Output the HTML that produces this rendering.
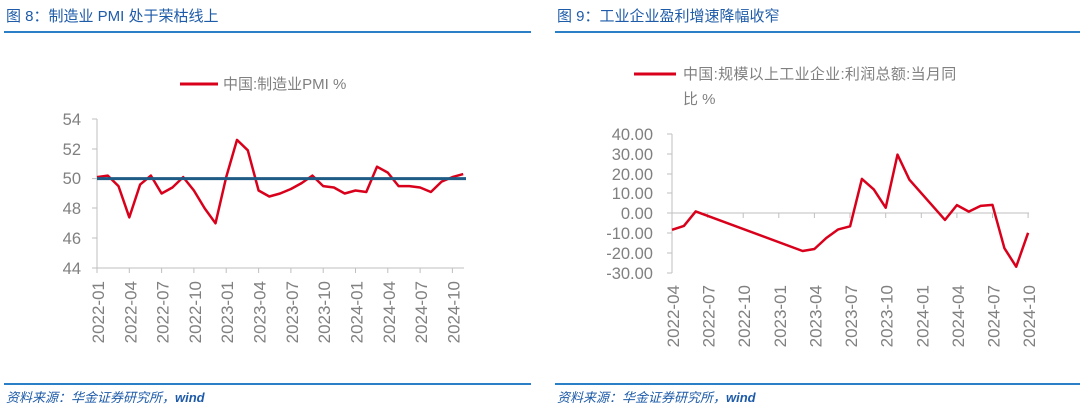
<!DOCTYPE html>
<html><head><meta charset="utf-8"><style>
body{margin:0;background:#fff;}
svg{display:block;font-family:"Liberation Sans","Noto Sans CJK SC",sans-serif;}
</style></head><body>
<svg width="1080" height="410" viewBox="0 0 1080 410">
<!-- titles -->
<text x="6" y="21" font-size="15" fill="#1e5ba8">图 8：制造业 PMI 处于荣枯线上</text>
<line x1="4" y1="32" x2="531" y2="32" stroke="#2a7fc6" stroke-width="2"/>
<text x="557" y="21" font-size="15" fill="#1e5ba8">图 9：工业企业盈利增速降幅收窄</text>
<line x1="555" y1="32" x2="1080" y2="32" stroke="#2a7fc6" stroke-width="2"/>
<!-- footers -->
<line x1="4" y1="384" x2="531" y2="384" stroke="#2a7fc6" stroke-width="2"/>
<line x1="555" y1="384" x2="1080" y2="384" stroke="#2a7fc6" stroke-width="2"/>
<text x="6" y="402" font-size="13" fill="#1e5ba8" font-style="italic">资料来源：华金证券研究所，<tspan font-weight="bold">wind</tspan></text>
<text x="557" y="402" font-size="13" fill="#1e5ba8" font-style="italic">资料来源：华金证券研究所，<tspan font-weight="bold">wind</tspan></text>

<!-- LEFT CHART -->
<line x1="180" y1="84" x2="218" y2="84" stroke="#d9001b" stroke-width="3"/>
<text x="223" y="89" font-size="15" fill="#808080">中国:制造业PMI %</text>
<g font-size="16.5" fill="#808080" text-anchor="end">
<text x="81" y="125">54</text><text x="81" y="155">52</text><text x="81" y="184">50</text>
<text x="81" y="214">48</text><text x="81" y="244">46</text><text x="81" y="274">44</text>
</g>
<g stroke="#bfbfbf" stroke-width="1">
<line x1="97" y1="119" x2="97" y2="268"/>
<line x1="92" y1="119" x2="97" y2="119"/><line x1="92" y1="149" x2="97" y2="149"/>
<line x1="92" y1="178.6" x2="97" y2="178.6"/><line x1="92" y1="208" x2="97" y2="208"/>
<line x1="92" y1="238" x2="97" y2="238"/><line x1="92" y1="268" x2="97" y2="268"/>
<line x1="97" y1="268" x2="464" y2="268"/>
<line x1="97" y1="268" x2="97" y2="273"/><line x1="129.3" y1="268" x2="129.3" y2="273"/>
<line x1="161.6" y1="268" x2="161.6" y2="273"/><line x1="193.9" y1="268" x2="193.9" y2="273"/>
<line x1="226.2" y1="268" x2="226.2" y2="273"/><line x1="258.6" y1="268" x2="258.6" y2="273"/>
<line x1="290.9" y1="268" x2="290.9" y2="273"/><line x1="323.2" y1="268" x2="323.2" y2="273"/>
<line x1="355.5" y1="268" x2="355.5" y2="273"/><line x1="387.8" y1="268" x2="387.8" y2="273"/>
<line x1="420.1" y1="268" x2="420.1" y2="273"/><line x1="452.4" y1="268" x2="452.4" y2="273"/>
</g>
<g font-size="17" fill="#808080" text-anchor="end">
<text transform="translate(104,281) rotate(-90)">2022-01</text>
<text transform="translate(136.3,281) rotate(-90)">2022-04</text>
<text transform="translate(168.6,281) rotate(-90)">2022-07</text>
<text transform="translate(200.9,281) rotate(-90)">2022-10</text>
<text transform="translate(233.2,281) rotate(-90)">2023-01</text>
<text transform="translate(265.6,281) rotate(-90)">2023-04</text>
<text transform="translate(297.9,281) rotate(-90)">2023-07</text>
<text transform="translate(330.2,281) rotate(-90)">2023-10</text>
<text transform="translate(362.5,281) rotate(-90)">2024-01</text>
<text transform="translate(394.8,281) rotate(-90)">2024-04</text>
<text transform="translate(427.1,281) rotate(-90)">2024-07</text>
<text transform="translate(459.4,281) rotate(-90)">2024-10</text>
</g>
<polyline fill="none" stroke="#d9001b" stroke-width="2.5" stroke-linejoin="round" points="97,177.1 107.8,175.6 118.5,186.1 129.3,217.4 140.1,184.6 150.9,175.6 161.6,193.5 172.4,187.5 183.2,177.1 193.9,190.5 204.7,208.4 215.5,223.3 226.2,177.1 237,139.9 247.8,150.3 258.6,190.5 269.3,196.5 280.1,193.5 290.9,189 301.6,183.1 312.4,175.6 323.2,186.1 333.9,187.5 344.7,193.5 355.5,190.5 366.3,192 377,166.7 387.8,172.6 398.6,186.1 409.3,186.1 420.1,187.5 430.9,192 441.6,181.6 452.4,177.1 463.2,174.1"/>
<line x1="97" y1="178.6" x2="466" y2="178.6" stroke="#1f5c85" stroke-width="3"/>

<!-- RIGHT CHART -->
<line x1="634" y1="74" x2="676" y2="74" stroke="#d9001b" stroke-width="3"/>
<text x="683" y="79" font-size="15" fill="#808080" letter-spacing="0.3">中国:规模以上工业企业:利润总额:当月同</text>
<text x="683" y="104" font-size="15" fill="#808080">比 %</text>
<g font-size="16.5" fill="#808080" text-anchor="end">
<text x="653" y="140">40.00</text><text x="653" y="160">30.00</text><text x="653" y="180">20.00</text>
<text x="653" y="199">10.00</text><text x="653" y="219">0.00</text><text x="653" y="239">-10.00</text>
<text x="653" y="259">-20.00</text><text x="653" y="279">-30.00</text>
</g>
<g stroke="#bfbfbf" stroke-width="1">
<line x1="672" y1="134" x2="672" y2="273"/>
<line x1="667" y1="134" x2="672" y2="134"/><line x1="667" y1="154" x2="672" y2="154"/>
<line x1="667" y1="174" x2="672" y2="174"/><line x1="667" y1="193" x2="672" y2="193"/>
<line x1="667" y1="213" x2="672" y2="213"/><line x1="667" y1="233" x2="672" y2="233"/>
<line x1="667" y1="253" x2="672" y2="253"/><line x1="667" y1="273" x2="672" y2="273"/>
<line x1="672" y1="213" x2="1029" y2="213"/>
<line x1="707.6" y1="213" x2="707.6" y2="218"/><line x1="743.2" y1="213" x2="743.2" y2="218"/>
<line x1="778.8" y1="213" x2="778.8" y2="218"/><line x1="814.4" y1="213" x2="814.4" y2="218"/>
<line x1="850" y1="213" x2="850" y2="218"/><line x1="885.7" y1="213" x2="885.7" y2="218"/>
<line x1="921.3" y1="213" x2="921.3" y2="218"/><line x1="956.9" y1="213" x2="956.9" y2="218"/>
<line x1="992.5" y1="213" x2="992.5" y2="218"/><line x1="1028.1" y1="213" x2="1028.1" y2="218"/>
</g>
<g font-size="17" fill="#808080" text-anchor="end">
<text transform="translate(679,285) rotate(-90)">2022-04</text>
<text transform="translate(714.6,285) rotate(-90)">2022-07</text>
<text transform="translate(750.2,285) rotate(-90)">2022-10</text>
<text transform="translate(785.8,285) rotate(-90)">2023-01</text>
<text transform="translate(821.4,285) rotate(-90)">2023-04</text>
<text transform="translate(857,285) rotate(-90)">2023-07</text>
<text transform="translate(892.7,285) rotate(-90)">2023-10</text>
<text transform="translate(928.3,285) rotate(-90)">2024-01</text>
<text transform="translate(963.9,285) rotate(-90)">2024-04</text>
<text transform="translate(999.5,285) rotate(-90)">2024-07</text>
<text transform="translate(1035.1,285) rotate(-90)">2024-10</text>
</g>
<polyline fill="none" stroke="#d9001b" stroke-width="2.5" stroke-linejoin="round" points="672,229.8 683.9,225.9 695.7,211.4 802.6,251 814.4,249 826.3,238 838.2,229.4 850.1,226.3 861.9,178.9 873.8,189.4 885.7,207.7 897.5,154.6 909.4,179.7 945,219.9 956.9,205.1 968.8,211.6 980.6,205.9 992.5,204.9 1004.4,248.2 1016.2,266.7 1028.1,232.8"/>
</svg>
</body></html>
